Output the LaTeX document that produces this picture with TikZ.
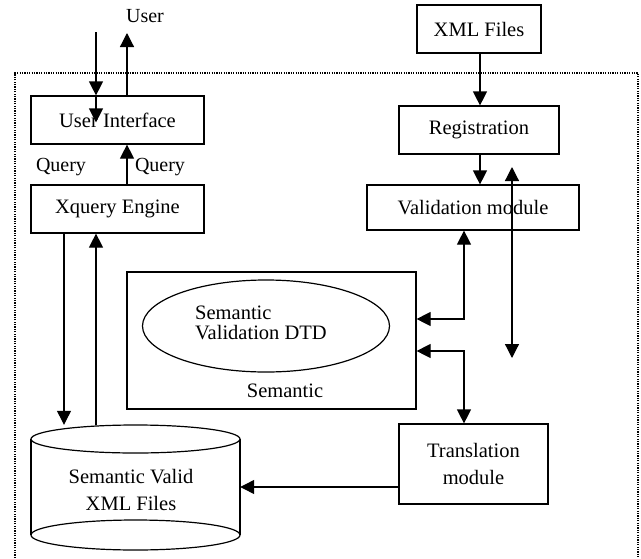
\documentclass[tikz,border=0pt]{standalone}
\usepackage{fontspec}
\setmainfont{Liberation Serif}
\usetikzlibrary{arrows.meta,shapes.geometric}
\begin{document}
\begin{tikzpicture}[x=1pt,y=-1pt,
  box/.style={draw,line width=1.2pt,inner sep=0pt,font=\fontsize{20.5}{27}\selectfont,align=center},
  lbl/.style={inner sep=0pt,font=\fontsize{20}{24}\selectfont},
  tip/.style={Triangle[length=14pt,width=14pt]},
  arr/.style={line width=1.2pt,-{Triangle[length=14pt,width=14pt]}},
  darr/.style={line width=1.2pt,{Triangle[length=14pt,width=14pt]}-{Triangle[length=14pt,width=14pt]}},
]
\useasboundingbox (0,0) rectangle (641,558);
% dotted frame
\draw[line width=1.2pt,dash pattern=on 1.2pt off 1.2pt] (15,558) -- (15,73) -- (638,73) -- (638,558);

% nodes
\node[lbl] (user) at (145,16) {User};
\node[box,minimum width=173pt,minimum height=48pt] (ui) at (117.5,120) {User Interface};
\node[box,minimum width=173pt,minimum height=48pt] (xq) at (117.5,209) {Xquery Engine};
\node[lbl] (q1) at (61,167) {Query};
\node[lbl] (q2) at (160,167) {Query};
\node[box,minimum width=124pt,minimum height=48pt] (xml) at (479,29) {XML Files};
\node[box,minimum width=160pt,minimum height=48pt] (reg) at (479,130) {Registration};
\node[box,minimum width=212pt,minimum height=45pt] (val) at (473,207.5) {Validation module};
\node[box,minimum width=289pt,minimum height=137pt] (sem) at (271.5,340.5) {};
\node[lbl,font=\fontsize{20.5}{24}\selectfont] (semlbl) at (285,391) {Semantic};
\node[draw,ellipse,line width=1.2pt,inner sep=0pt,minimum width=247pt,minimum height=92pt] (dtd) at (266,326) {};
\node[anchor=west,inner sep=0pt,align=left,font=\fontsize{20.5}{20.5}\selectfont] (dtdtxt) at (195,323) {Semantic\\Validation DTD};
\node[box,minimum width=149pt,minimum height=80pt] (trans) at (473.5,464) {Translation\\module};
% database cylinder
\node[inner sep=0pt,minimum width=209pt,minimum height=124pt] (db) at (135.5,487) {};
\draw[line width=1.2pt] (31,439) -- (31,535);
\draw[line width=1.2pt] (240,439) -- (240,535);
\draw[line width=1.2pt,fill=white] (135.5,439) ellipse [x radius=104.5pt, y radius=14pt];
\draw[line width=1.2pt] (135.5,535) ellipse [x radius=104.5pt, y radius=15pt];
\node[inner sep=0pt,align=center,font=\fontsize{20.5}{27}\selectfont] (dbtxt) at (131,489.5) {Semantic Valid\\XML Files};

% connectors
\coordinate (uin) at (96,32);
\draw[arr] (uin) -- (uin |- ui.north);
\draw[arr] (uin |- ui.north) -- ++(0,27);
\coordinate (uout) at (127,33);
\draw[arr] (uout |- ui.north) -- (uout);
\draw[arr] (uout |- xq.north) -- (uout |- ui.south);
\coordinate (dn) at (64,0);
\coordinate (upx) at (96,0);
\draw[arr] (dn |- xq.south) -- (dn |- db.north);
\draw[arr] (upx |- db.north) -- (upx |- xq.south);
\coordinate (rx) at (480,0);
\draw[arr] (rx |- xml.south) -- (rx |- reg.north);
\draw[arr] (rx |- reg.south) -- (rx |- val.north);
\coordinate (lt) at (512,167);
\coordinate (lb) at (512,358);
\draw[darr] (lt) -- (lb);
\coordinate (vx) at (464,0);
\coordinate (s1) at (0,319);
\coordinate (s2) at (0,351);
\draw[darr] (vx |- val.south) |- (sem.east |- s1);
\draw[darr] (sem.east |- s2) -| (vx |- trans.north);
\coordinate (ty) at (0,487);
\draw[arr] (trans.west |- ty) -- (db.east |- ty);
\end{tikzpicture}
\end{document}
